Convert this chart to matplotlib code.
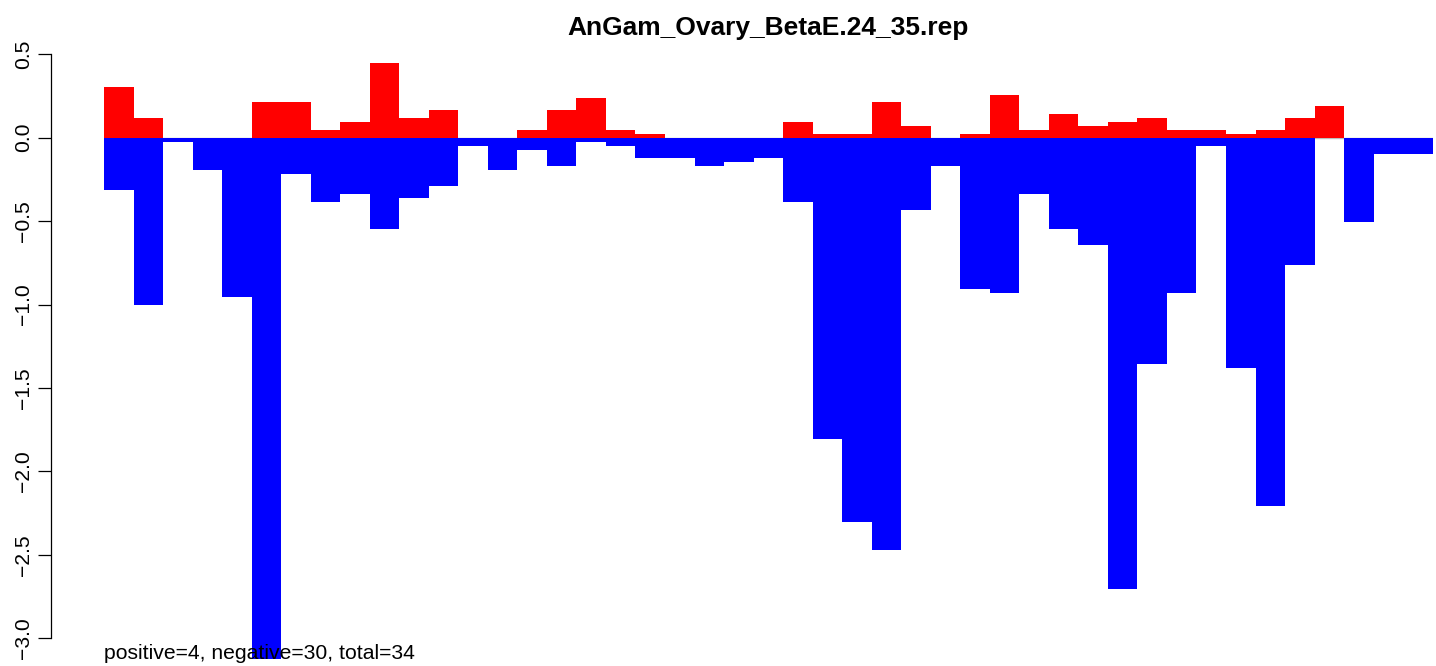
import matplotlib.pyplot as plt
import numpy as np

# values, one per bar position
pos_vals = [0.304, 0.118, 0, 0, 0, 0.214, 0.214, 0.046, 0.094, 0.448,
            0.118, 0.166, 0, 0, 0.046, 0.166, 0.238, 0.046, 0.022, 0,
            0, 0, 0, 0.094, 0.022, 0.022, 0.214, 0.070, 0, 0.022,
            0.256, 0.046, 0.142, 0.070, 0.094, 0.118, 0.046, 0.046, 0.022, 0.046,
            0.118, 0.190, 0, 0, 0]
neg_vals = [-0.314, -1.0, -0.024, -0.194, -0.955, -3.13, -0.218, -0.386, -0.338, -0.545,
            -0.362, -0.288, -0.05, -0.194, -0.074, -0.170, -0.024, -0.05, -0.122, -0.122,
            -0.170, -0.146, -0.122, -0.386, -1.806, -2.304, -2.472, -0.434, -0.170, -0.905,
            -0.929, -0.338, -0.546, -0.641, -2.704, -1.357, -0.929, -0.05, -1.381, -2.208,
            -0.761, 0, -0.506, -0.098, -0.098]
title = 'AnGam_Ovary_BetaE.24_35.rep'
summary = 'positive=4, negative=30, total=34'
yticks = [-3.0, -2.5, -2.0, -1.5, -1.0, -0.5, 0.0, 0.5]

plt.rcParams['font.family'] = ['Liberation Sans', 'DejaVu Sans']

W, H = 1436, 666
fig = plt.figure(figsize=(W / 100, H / 100), dpi=100)
ax = fig.add_axes([104 / W, (H - 659.3) / H, 1328.7 / W, 619.3 / H])

x = np.arange(len(pos_vals))
ax.axhline(0, color='#bebebe', lw=1, zorder=1)
ax.bar(x, pos_vals, width=1.0, align='edge', color='#ff0000', lw=0, zorder=2)
ax.bar(x, neg_vals, width=1.0, align='edge', color='#0000ff', lw=0, zorder=2)

ax.set_xlim(0, len(pos_vals))
ax.set_ylim(-3.127, 0.586)

for s in ['top', 'right', 'bottom']:
    ax.spines[s].set_visible(False)
ax.spines['left'].set_position(('outward', 53 * 0.72))
ax.spines['left'].set_bounds(-3.0, 0.5)
ax.spines['left'].set_linewidth(0.9)
ax.set_xticks([])
ax.set_yticks(yticks)
ax.set_yticklabels([('%.1f' % v).replace('-', '\u2212') for v in yticks],
                   rotation=90, va='center', fontsize=15.2)
ax.tick_params(axis='y', length=9.4, width=0.9, pad=3.6)

fig.text(768.3 / W, 1 - 35 / H, title, ha='center', va='baseline',
         fontsize=19, fontweight='bold')
fig.text(104 / W, 7 / H, summary, ha='left', va='baseline', fontsize=15.2,
         zorder=5)

fig.savefig('out.png', dpi=100)
